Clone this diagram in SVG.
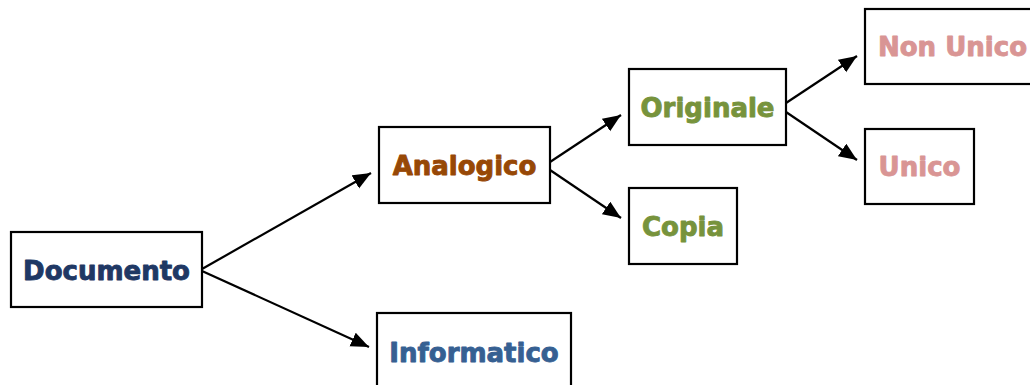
<svg xmlns="http://www.w3.org/2000/svg" width="1030" height="385" viewBox="0 0 1030 385">
<style>
.box{fill:#fff;stroke:#000;stroke-width:2.2}
.t{font-family:"DejaVu Sans",sans-serif;font-weight:bold;font-size:26px;text-anchor:middle;stroke-width:0.9;stroke-linejoin:round}
.edge{stroke:#000;stroke-width:2.2;fill:none;marker-end:url(#arr)}
</style>
<defs>
<marker id="arr" markerUnits="userSpaceOnUse" markerWidth="20" markerHeight="16" refX="18" refY="7.5" orient="auto">
<path d="M0,0 L18,7.5 L0,15 Z" fill="#000"/>
</marker>
</defs>
<rect width="1030" height="385" fill="#fff"/>
<g id="connectors">
<line class="edge" x1="202" y1="269" x2="371" y2="173"/>
<line class="edge" x1="202" y1="271" x2="369" y2="347"/>
<line class="edge" x1="550" y1="162" x2="621" y2="115"/>
<line class="edge" x1="550" y1="170" x2="621" y2="218"/>
<line class="edge" x1="786" y1="103" x2="857" y2="56"/>
<line class="edge" x1="786" y1="112" x2="857" y2="160"/>
</g>
<g id="documento">
<rect class="box" x="11" y="232" width="191" height="75"/>
<text class="t" x="106.5" y="280" fill="#1F3864" stroke="#1F3864">Documento</text>
</g>
<g id="analogico">
<rect class="box" x="379" y="127" width="171" height="76"/>
<text class="t" x="464.5" y="175" fill="#974806" stroke="#974806">Analogico</text>
</g>
<g id="informatico">
<rect class="box" x="377" y="313" width="194" height="76"/>
<text class="t" x="474" y="362" fill="#366092" stroke="#366092">Informatico</text>
</g>
<g id="originale">
<rect class="box" x="629" y="69" width="157" height="76"/>
<text class="t" x="707.5" y="117" fill="#77933C" stroke="#77933C">Originale</text>
</g>
<g id="copia">
<rect class="box" x="629" y="188" width="108" height="76"/>
<text class="t" x="683" y="236" fill="#77933C" stroke="#77933C">Copia</text>
</g>
<g id="non-unico">
<rect class="box" x="865" y="9" width="175" height="75"/>
<text class="t" x="952.5" y="56" fill="#D99594" stroke="#D99594">Non Unico</text>
</g>
<g id="unico">
<rect class="box" x="865" y="129" width="109" height="75"/>
<text class="t" x="919.5" y="176" fill="#D99594" stroke="#D99594">Unico</text>
</g>
</svg>
